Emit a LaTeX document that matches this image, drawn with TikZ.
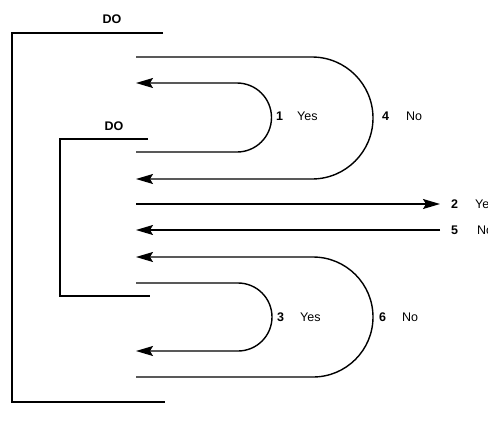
\documentclass[tikz,border=0pt]{standalone}
\usepackage{fontspec}
\setsansfont{Liberation Sans}
\usetikzlibrary{arrows.meta}

\tikzset{
  flow/.style={line width=1.4pt},
  flowarr/.style={flow, -{Stealth[length=17pt,width=10pt,inset=3pt]}},
  lbl/.style={inner sep=0pt, anchor=west, font=\sffamily\fontsize{12.5}{14}\selectfont},
  num/.style={lbl, font=\sffamily\bfseries\fontsize{12.5}{14}\selectfont}
}

\begin{document}
\begin{tikzpicture}[x=1pt,y=-1pt]
  \useasboundingbox (0,0) rectangle (488,424);

  % DO brackets
  \node[num, anchor=center] (doout) at (112,19) {DO};
  \node[num, anchor=center] (doin) at (114,126) {DO};
  \draw[flow] (163,33) -- (12,33) -- (12,402) -- (165,402);
  \draw[flow] (148,139) -- (60,139) -- (60,296) -- (150,296);

  % upper loops
  \draw[flowarr] (136,57) -- (312,57) arc[start angle=90,end angle=-90,radius=61pt] -- (136,179);
  \draw[flowarr] (136,152) -- (237,152) arc[start angle=-90,end angle=90,radius=34.5pt] -- (136,83);

  % straight exits
  \draw[flowarr] (136,204) -- (440,204);
  \draw[flowarr] (440,230) -- (136,230);

  % lower loops
  \draw[flowarr] (136,377) -- (313,377) arc[start angle=-90,end angle=90,radius=60pt] -- (136,257);
  \draw[flowarr] (136,283) -- (238,283) arc[start angle=90,end angle=-90,radius=34pt] -- (136,351);

  % labels
  \node[num] (n1) at (276,116) {1};
  \node[lbl] (y1) at (297,116) {Yes};
  \node[num] (n4) at (382,116) {4};
  \node[lbl] (no4) at (406,116) {No};
  \node[num] (n2) at (451,204) {2};
  \node[lbl] (y2) at (475,204) {Yes};
  \node[num] (n5) at (451,230) {5};
  \node[lbl] (no5) at (477,230) {No};
  \node[num] (n3) at (277,317) {3};
  \node[lbl] (y3) at (300,317) {Yes};
  \node[num] (n6) at (379,317) {6};
  \node[lbl] (no6) at (402,317) {No};
\end{tikzpicture}
\end{document}
